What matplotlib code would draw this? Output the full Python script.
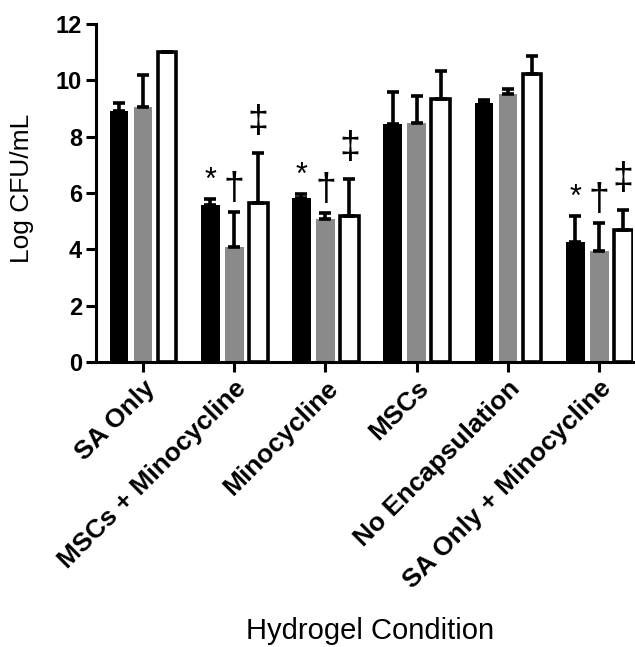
import matplotlib
matplotlib.use("Agg")
import matplotlib.pyplot as plt
import numpy as np

plt.rcParams['font.family'] = ['Liberation Sans', 'DejaVu Sans']

conditions = ['SA Only', 'MSCs + Minocycline', 'Minocycline', 'MSCs',
              'No Encapsulation', 'SA Only + Minocycline']
black_vals = [8.91, 5.57, 5.83, 8.46, 9.20, 4.27]
black_err = [0.29, 0.23, 0.15, 1.14, 0.09, 0.92]
gray_vals = [9.06, 4.09, 5.07, 8.50, 9.53, 3.95]
gray_err = [1.14, 1.24, 0.23, 0.94, 0.17, 0.99]
white_vals = [11.0, 5.65, 5.18, 9.35, 10.24, 4.70]
white_err = [0.0, 1.77, 1.31, 0.97, 0.62, 0.71]
# significance markers per group (black, gray, white), None = no mark
marks = [None, ('*', '\u2020', '\u2021'), ('*', '\u2020', '\u2021'), None, None,
         ('*', '\u2020', '\u2021')]

fig = plt.figure(figsize=(6.35, 6.47), dpi=100)
ax = fig.add_axes([96 / 635, 1 - 362 / 647, (633 - 96) / 635, (362 - 24) / 647])

x = np.arange(len(conditions))
off = 0.263
w = 0.205
series = [
    (black_vals, black_err, 'black', 'black', 0),
    (gray_vals, gray_err, '#8a8a8a', '#8a8a8a', 0),
    (white_vals, white_err, 'white', 'black', 2.6),
]
for i, (vals, err, fc, ec, lw) in enumerate(series):
    pos = x + (i - 1) * off
    ax.bar(pos, vals, width=w, color=fc, edgecolor=ec, linewidth=lw, zorder=2)
    ax.errorbar(pos, vals, yerr=[np.zeros(len(err)), err], fmt='none',
                ecolor='black', elinewidth=2.6, capsize=4.2, capthick=2.6, zorder=3)

# gap above the error bar for each symbol
gaps = {'*': 0.62, '\u2020': 0.8, '\u2021': 1.1}
sizes = {'*': 22, '\u2020': 27, '\u2021': 27}
for g, m in enumerate(marks):
    if m is None:
        continue
    tops = [black_vals[g] + black_err[g], gray_vals[g] + gray_err[g],
            white_vals[g] + white_err[g]]
    for i, s in enumerate(m):
        ax.text(x[g] + (i - 1) * off, tops[i] + gaps[s], s, ha='center',
                va='center', fontsize=sizes[s], color='black')

ax.set_ylim(0, 12)
ax.set_xlim(-0.515, 5.37)
ax.set_yticks(range(0, 13, 2))
ax.set_xticks(x)
ax.set_xticklabels(conditions, rotation=45, ha='right', rotation_mode='anchor',
                   fontsize=19, fontweight='bold')
for lab in ax.get_yticklabels():
    lab.set_fontsize(17)
    lab.set_fontweight('bold')
ax.set_ylabel('Log CFU/mL', fontsize=19, va='center')
ax.yaxis.set_label_coords(-0.138, 0.515)
ax.set_xlabel('Hydrogel Condition', fontsize=21, va='center')
ax.xaxis.set_label_coords(0.51, -0.796)

for side in ['top', 'right']:
    ax.spines[side].set_visible(False)
for side in ['left', 'bottom']:
    ax.spines[side].set_linewidth(2.2)
ax.tick_params(axis='both', width=2.2, length=7, direction='out', pad=3)

fig.savefig('out.png', dpi=100)
